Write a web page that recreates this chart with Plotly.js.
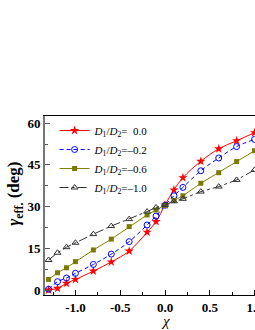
<!DOCTYPE html>
<html><head><meta charset="utf-8">
<script src="https://cdn.plot.ly/plotly-3.0.1.min.js"></script>
<style>html,body{margin:0;padding:0;overflow:hidden;background:#fff;width:255px;height:330px}#plot{width:285px;height:330px}</style>
</head><body><div id="plot"></div>
<script>
const chi = [-1.3, -1.2, -1.1, -1.0, -0.8, -0.6, -0.4, -0.2, -0.1, 0.0, 0.1, 0.2, 0.4, 0.6, 0.8, 1.0];
const gamma_00 = [0.0, 0.6, 2.4, 3.8, 6.8, 10.1, 14.0, 20.8, 24.6, 30.6, 36.0, 40.4, 46.3, 50.8, 53.7, 56.6];
const gamma_02 = [0.25, 3.0, 4.3, 6.0, 9.2, 12.9, 17.4, 23.4, 26.6, 30.5, 33.9, 36.9, 42.9, 47.5, 51.6, 54.2];
const gamma_06 = [3.8, 6.2, 8.0, 10.2, 14.4, 18.3, 22.8, 27.0, 28.8, 30.4, 32.2, 33.9, 38.4, 42.2, 46.2, 50.1];
const gamma_10 = [10.8, 13.4, 15.4, 17.0, 20.1, 23.0, 25.5, 28.2, 29.7, 30.6, 31.9, 32.8, 35.4, 37.2, 39.6, 43.2];
const seriesNames = ['<i>D</i><sub>1</sub>/<i>D</i><sub>2</sub>=  0.0', '<i>D</i><sub>1</sub>/<i>D</i><sub>2</sub>=–0.2', '<i>D</i><sub>1</sub>/<i>D</i><sub>2</sub>=–0.6', '<i>D</i><sub>1</sub>/<i>D</i><sub>2</sub>=–1.0'];
const xTickVals = [-1.0, -0.5, 0.0, 0.5, 1.0];
const xTickText = ['-1.0', '-0.5', '0.0', '0.5', '1.0'];
const yTickVals = [0, 15, 30, 45, 60];
const yTickText = ['0', '15', '30', '45', '60'];

const F = 'Liberation Serif, Times New Roman, serif';
const traces = [
  {x: chi, y: gamma_00, name: seriesNames[0], mode: 'lines+markers',
   line: {color: '#ff0000', width: 1, shape: 'spline'},
   marker: {symbol: 'star', size: 7, color: '#ff0000'}},
  {x: chi, y: gamma_02, name: seriesNames[1], mode: 'lines+markers',
   line: {color: '#0000ff', width: 1, dash: '4px,3px', shape: 'spline'},
   marker: {symbol: 'circle-open', size: 6, color: '#0000ff', line: {width: 1}}},
  {x: chi, y: gamma_06, name: seriesNames[2], mode: 'lines+markers',
   line: {color: '#808000', width: 1},
   marker: {symbol: 'square', size: 5, color: '#7a7a00'}},
  {x: chi, y: gamma_10, name: seriesNames[3], mode: 'lines+markers',
   line: {color: '#333333', width: 1, dash: 'dashdot'},
   marker: {symbol: 'triangle-up-open', size: 6, color: '#333333', line: {width: 1}}}
];
const layout = {
  width: 285, height: 330,
  margin: {l: 45, r: 0, t: 116, b: 35},
  paper_bgcolor: '#fff', plot_bgcolor: '#fff',
  font: {family: F, color: '#000'},
  showlegend: true,
  legend: {x: 0.04, y: 1.0, xanchor: 'left', yanchor: 'top', bgcolor: 'rgba(0,0,0,0)',
           font: {family: F, size: 11, color: '#000'}, itemwidth: 30, tracegroupgap: 0},
  xaxis: {range: [-1.34, 1.34], tickvals: xTickVals, ticktext: xTickText,
          ticks: 'inside', ticklen: 5, tickwidth: 1, tickcolor: '#000',
          minor: {dtick: 0.25, ticks: 'inside', ticklen: 3, tickcolor: '#000'},
          showline: true, linecolor: '#000', linewidth: 1, mirror: true,
          showgrid: false, zeroline: false,
          tickfont: {family: F, size: 13, color: '#000', weight: 'bold'}},
  yaxis: {range: [-1.8, 62.6], tickvals: yTickVals, ticktext: yTickText,
          ticks: 'inside', ticklen: 5, tickwidth: 1, tickcolor: '#555',
          minor: {dtick: 7.5, ticks: 'inside', ticklen: 3, tickcolor: '#555'},
          showline: true, linecolor: '#777', linewidth: 2, mirror: false,
          showgrid: false, zeroline: false,
          tickfont: {family: F, size: 13, color: '#000', weight: 'bold'}},
  annotations: [
    {text: '<i>χ</i>', xref: 'x', yref: 'paper', x: 0, y: -0.147,
     xanchor: 'center', yanchor: 'middle', showarrow: false, borderpad: 0,
     font: {family: F, size: 15, color: '#000'}},
    {text: '<b><i>γ</i><sub>eff.</sub> (deg)</b>', xref: 'paper', yref: 'paper', x: -0.125, y: 0.565,
     xanchor: 'center', yanchor: 'middle', textangle: -90, showarrow: false,
     font: {family: F, size: 17, color: '#000'}}
  ]
};
Plotly.newPlot('plot', traces, layout, {displayModeBar: false, staticPlot: true});
</script></body></html>
